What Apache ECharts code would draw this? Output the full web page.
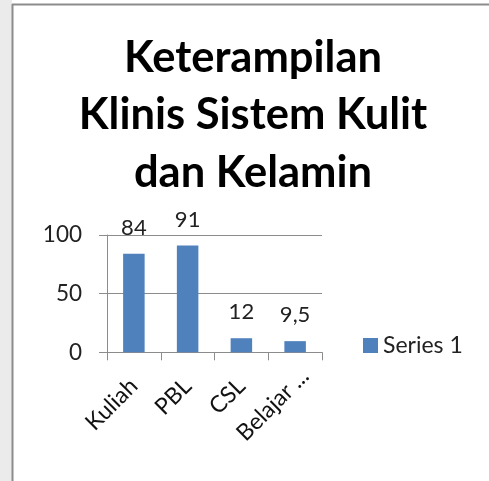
<!DOCTYPE html>
<html>
<head>
<meta charset="utf-8">
<script src="https://cdn.jsdelivr.net/npm/echarts@6/dist/echarts.min.js"></script>
<style>
html,body{margin:0;padding:0;background:#fff;}
#chart{width:489px;height:481px;}
</style>
</head>
<body>
<div id="chart"></div>
<script>
const titleLines = ['Keterampilan', 'Klinis Sistem Kulit', 'dan Kelamin'];
const categories = ['Kuliah', 'PBL', 'CSL', 'Belajar ...'];
const seriesName = 'Series 1';
const values = [84, 91, 12, 9.5];
const yTicks = { min: 0, max: 100, interval: 50 };

const chart = echarts.init(document.getElementById('chart'), null, { renderer: 'canvas' });
const FONT = 'Lato';
const catData = categories.map((c, i) => i === categories.length - 1
  ? { value: c, textStyle: { padding: [0, -14, 0, 0] } }
  : c);
chart.setOption({
  backgroundColor: '#ffffff',
  animation: false,
  graphic: [
    { type: 'rect', shape: { x: 0, y: 0, width: 12, height: 481 }, style: { fill: '#ebebeb' }, z: -1 },
    { type: 'line', shape: { x1: 12, y1: 4.5, x2: 489, y2: 4.5 }, style: { stroke: '#8c8c8c', lineWidth: 2 } },
    { type: 'line', shape: { x1: 12.5, y1: 4, x2: 12.5, y2: 481 }, style: { stroke: '#8c8c8c', lineWidth: 2 } }
  ],
  title: {
    text: titleLines.join('\n'),
    left: 253, top: 29, textAlign: 'center', padding: 0,
    textStyle: { fontFamily: FONT, fontWeight: 'bold', fontSize: 43.5, lineHeight: 57.5, color: '#000' }
  },
  legend: {
    data: [seriesName],
    left: 363, top: 334, padding: 0,
    icon: 'rect', itemWidth: 15, itemHeight: 15, itemGap: 8,
    textStyle: { fontFamily: FONT, fontSize: 23, color: '#222' }
  },
  grid: { left: 107, right: 167, top: 235, bottom: 128.7, containLabel: false },
  xAxis: {
    type: 'category', data: catData,
    axisLine: { lineStyle: { color: '#8c8c8c', width: 1 } },
    axisTick: { show: true, length: 8, lineStyle: { color: '#8c8c8c' } },
    axisLabel: { rotate: 45, margin: 30, interval: 0, fontFamily: FONT, fontSize: 23, color: '#111' }
  },
  yAxis: {
    type: 'value', min: yTicks.min, max: yTicks.max, interval: yTicks.interval,
    axisLine: { show: true, lineStyle: { color: '#8c8c8c', width: 1 } },
    axisTick: { show: true, length: 8, lineStyle: { color: '#8c8c8c' } },
    splitLine: { lineStyle: { color: '#8c8c8c', width: 1 } },
    axisLabel: { margin: 25, fontFamily: FONT, fontSize: 22.5, color: '#222' }
  },
  series: [{
    name: seriesName, type: 'bar', data: values, barWidth: '40%',
    itemStyle: { color: '#4F81BD' },
    label: {
      show: true, position: 'top', distance: 15,
      fontFamily: FONT, fontSize: 22, color: '#222',
      formatter: p => String(p.value).replace('.', ',')
    }
  }]
});
</script>
</body>
</html>
